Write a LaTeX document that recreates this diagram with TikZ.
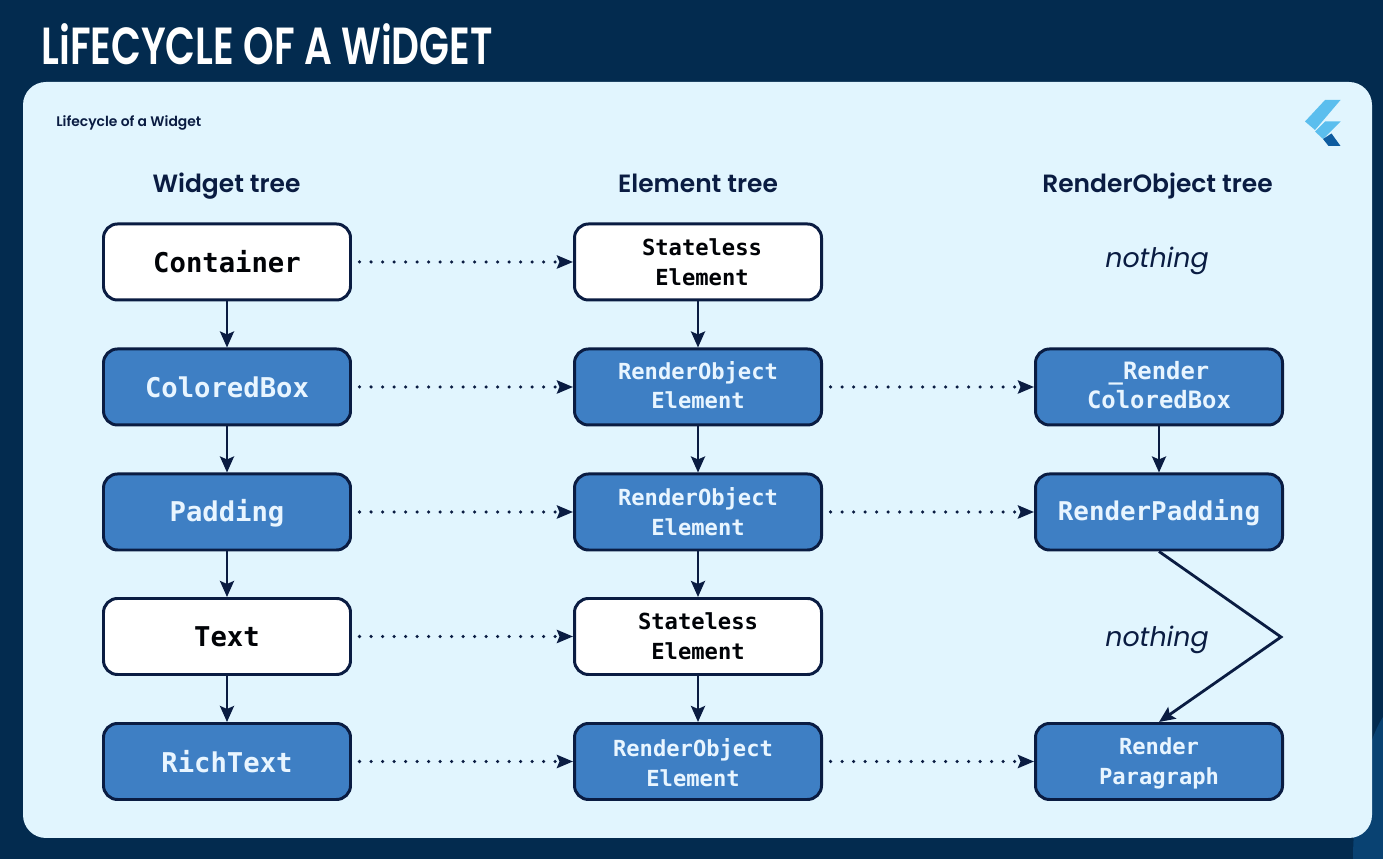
\documentclass[tikz,border=0pt]{standalone}
\usepackage{fontspec}
\setmainfont{Poppins}[BoldFont={Poppins SemiBold}]
\setmonofont{DejaVu Sans Mono}
\newfontfamily\titlefont{Poppins SemiBold}
\usepackage{xcolor}
\usetikzlibrary{arrows.meta}
\definecolor{BGc}{RGB}{3,43,79}
\definecolor{BGlight}{RGB}{9,66,114}
\definecolor{Cardc}{RGB}{225,245,254}
\definecolor{Inkc}{RGB}{10,28,66}
\definecolor{Boxc}{RGB}{62,127,196}
\definecolor{Boxtext}{RGB}{232,245,255}
\definecolor{Flc}{RGB}{91,190,238}
\definecolor{Fld}{RGB}{14,92,160}
\newcommand{\lineup}{\rule[-2.3pt]{0pt}{2.3pt}}
\newcommand{\linedown}[1][11.5pt]{\rule{0pt}{#1}}
\tikzset{
  wnode/.style={rounded corners=2.8mm,draw=Inkc,line width=1.7pt,fill=white,
                minimum width=49.4mm,minimum height=15.2mm,inner sep=0pt,align=center,
                text=black!90!Inkc,font=\fontsize{15.5}{18}\selectfont\ttfamily\bfseries},
  bnode/.style={wnode,fill=Boxc,text=Boxtext},
  twoline/.style={font=\fontsize{12.6}{17}\selectfont\ttfamily\bfseries},
  head/.style={anchor=base,text=Inkc,font=\fontsize{14.2}{18}\selectfont\bfseries},
  none/.style={text=Inkc,font=\fontsize{15.3}{20}\selectfont\itshape},
  child/.style={-{Stealth[length=3.2mm,width=2.8mm,inset=0.6mm]},line width=1.6pt,Inkc},
  link/.style={-{Stealth[length=3.2mm,width=2.6mm,inset=0.5mm]},line width=2pt,Inkc,
               line cap=round,dash pattern=on 0pt off 6.55pt,shorten <=1.5mm},
}
\begin{document}
\begin{tikzpicture}
  \useasboundingbox (0,0) rectangle (27.66,17.18);
  \fill[BGc] (0,0) rectangle (27.66,17.18);
  \fill[BGlight] (27.66,2.84) .. controls (27.3,2.3) and (27.06,1) .. (27.06,0) -- (27.66,0) -- cycle;
  \fill[Cardc,rounded corners=4.6mm] (0.46,0.42) rectangle (27.44,15.54);
  \node[anchor=west,text=white,inner sep=0pt,font=\fontsize{27}{30}\selectfont\titlefont] (title) at (0.82,16.3) {\scalebox{0.82}[1.1]{LiFECYCLE OF A WiDGET}};
  \node[anchor=west,text=Inkc,inner sep=0pt,font=\fontsize{7.9}{9}\selectfont\bfseries] (sub) at (1.12,14.73) {Lifecycle of a Widget};
  % logo
  \fill[Flc] (26.81,15.18) -- (26.5,15.18) -- (26.1,14.75) -- (26.3,14.58) -- cycle;
  \fill[Flc] (26.81,14.75) -- (26.5,14.75) -- (26.3,14.55) -- (26.46,14.40) -- cycle;
  \fill[Fld] (26.46,14.40) -- (26.63,14.51) -- (26.81,14.26) -- (26.57,14.26) -- cycle;
  % headers
  \node[head] (hw) at (4.53,13.32) {Widget tree};
  \node[head] (he) at (13.96,13.32) {Element tree};
  \node[head] (hr) at (23.15,13.32) {RenderObject tree};
  % widget tree
  \node[wnode] (w1) at (4.54,11.94) {Container};
  \node[bnode] (w2) at (4.54,9.44) {ColoredBox};
  \node[bnode] (w3) at (4.54,6.94) {\linedown[13.8pt]Padding};
  \node[wnode] (w4) at (4.54,4.45) {Text};
  \node[bnode] (w5) at (4.54,1.95) {RichText};
  % element tree
  \node[wnode,twoline] (e1) at (13.96,11.94) {\hspace*{1.6mm}Stateless\\\hspace*{1.6mm}Element};
  \node[bnode,twoline] (e2) at (13.96,9.44) {RenderObject\\Element\lineup};
  \node[bnode,twoline] (e3) at (13.96,6.94) {RenderObject\\Element};
  \node[wnode,twoline] (e4) at (13.96,4.45) {Stateless\\Element};
  \node[bnode,twoline] (e5) at (13.96,1.95) {\linedown RenderObject\hspace*{2mm}\\Element\hspace*{2mm}};
  % render tree
  \node[none] (n1) at (23.14,11.97) {nothing};
  \node[bnode,twoline,font=\fontsize{13.6}{17}\selectfont\ttfamily\bfseries] (r2) at (23.18,9.44) {\_Render\\ColoredBox\lineup};
  \node[bnode,font=\fontsize{14.7}{18}\selectfont\ttfamily\bfseries] (r3) at (23.18,6.94) {\linedown[13.2pt]RenderPadding};
  \node[none] (n4) at (23.14,4.39) {nothing};
  \node[bnode,twoline] (r5) at (23.18,1.95) {\linedown Render\\Paragraph};
  \coordinate (bend) at (25.62,4.44);
  % children
  \draw[child] (w1) -- (w2);
  \draw[child] (w2) -- (w3);
  \draw[child] (w3) -- (w4);
  \draw[child] (w4) -- (w5);
  \draw[child] (e1) -- (e2);
  \draw[child] (e2) -- (e3);
  \draw[child] (e3) -- (e4);
  \draw[child] (e4) -- (e5);
  \draw[child] (r2) -- (r3);
  \draw[child,line join=miter] (r3.south) -- (bend) -- (r5.north);
  % links between trees
  \draw[link] (w1) -- (e1);
  \draw[link] (w2) -- (e2);
  \draw[link] (w3) -- (e3);
  \draw[link] (w4) -- (e4);
  \draw[link] (w5) -- (e5);
  \draw[link] (e2) -- (r2);
  \draw[link] (e3) -- (r3);
  \draw[link] (e5) -- (r5);
\end{tikzpicture}
\end{document}
